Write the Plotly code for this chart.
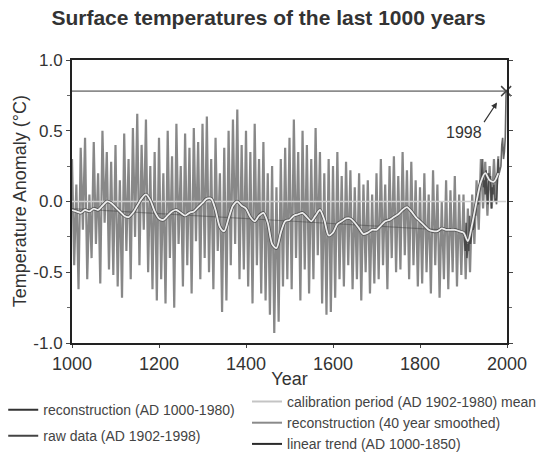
import plotly.graph_objects as go

# ---------------- data ----------------
recon_years = list(range(1000, 1981, 5))
recon_values = [
    0.30, -0.45, 0.12, -0.62, 0.38, -0.20, 0.45, -0.55, 0.05, -0.40, 0.42, -0.30, 0.20, -0.58, 0.50, -0.15, 0.35, -0.48, 0.28, -0.52,
    0.40, -0.60, 0.15, -0.68, 0.48, -0.35, 0.30, -0.55, 0.52, -0.25, 0.62, -0.45, 0.40, -0.20, 0.58, -0.50, 0.25, -0.62, 0.35, -0.70,
    0.45, -0.55, 0.20, -0.72, 0.50, -0.40, 0.32, -0.75, 0.55, -0.30, 0.25, -0.60, 0.48, -0.45, 0.38, -0.65, 0.52, -0.28, 0.42, -0.55,
    0.55, -0.40, 0.60, -0.50, 0.30, -0.62, 0.45, -0.35, 0.20, -0.78, 0.38, -0.70, 0.50, -0.45, 0.58, -0.30, 0.65, -0.55, 0.40, -0.48,
    0.50, -0.60, 0.35, -0.72, 0.55, -0.45, 0.30, -0.65, 0.42, -0.70, 0.20, -0.80, 0.25, -0.93, 0.10, -0.85, 0.30, -0.60, 0.38, -0.55,
    0.45, -0.62, 0.58, -0.40, 0.35, -0.70, 0.50, -0.48, 0.40, -0.65, 0.30, -0.55, 0.52, -0.38, 0.35, -0.72, 0.20, -0.80, 0.30, -0.78,
    0.25, -0.68, 0.35, -0.55, 0.18, -0.60, 0.28, -0.45, 0.22, -0.62, 0.10, -0.55, 0.20, -0.70, 0.12, -0.50, 0.15, -0.65, 0.05, -0.58,
    0.20, -0.55, 0.30, -0.45, 0.12, -0.62, 0.25, -0.40, 0.32, -0.50, 0.18, -0.48, 0.35, -0.38, 0.22, -0.55, 0.28, -0.45, 0.15, -0.60,
    0.10, -0.58, 0.20, -0.50, 0.05, -0.65, 0.22, -0.45, 0.12, -0.68, 0.00, -0.55, 0.15, -0.62, 0.08, -0.50, 0.18, -0.60, 0.05, -0.52,
    0.05, -0.55, -0.05, -0.50, 0.05, -0.30, 0.15, -0.20, 0.30, -0.05, 0.28, -0.10, 0.25, -0.05, 0.30, 0.00, 0.32,
]

smooth_years = list(range(1000, 1981, 10))
smooth_values = [
    -0.06, -0.07, -0.08, -0.06, -0.07, -0.05, -0.06, -0.03, 0.00, -0.01,
    -0.04, -0.07, -0.10, -0.11, -0.08, -0.03, 0.02, 0.05, 0.01, -0.07,
    -0.12, -0.13, -0.10, -0.07, -0.06, -0.08, -0.10, -0.08, -0.07, -0.04,
    -0.01, 0.02, 0.02, -0.06, -0.18, -0.21, -0.12, -0.03, 0.00, -0.03,
    -0.05, -0.11, -0.14, -0.10, -0.08, -0.15, -0.30, -0.33, -0.22, -0.14,
    -0.13, -0.10, -0.09, -0.08, -0.11, -0.14, -0.10, -0.06, -0.13, -0.24,
    -0.22, -0.16, -0.14, -0.12, -0.12, -0.15, -0.19, -0.23, -0.22, -0.20,
    -0.20, -0.17, -0.14, -0.13, -0.11, -0.09, -0.06, -0.04, -0.07, -0.11,
    -0.14, -0.17, -0.20, -0.21, -0.21, -0.19, -0.20, -0.20, -0.20, -0.21,
    -0.22, -0.28, -0.16, 0.00, 0.14, 0.20, 0.15, 0.14, 0.20,
]

raw_years = list(range(1902, 1999, 2))
raw_values = [
    -0.25, -0.35, -0.15, -0.40, -0.30, -0.35, -0.10, -0.30, -0.25, -0.15,
    -0.20, -0.18, -0.05, -0.10, 0.00, 0.05, -0.02, 0.05, 0.15, 0.12,
    0.25, 0.30, 0.10, 0.15, 0.05, 0.22, 0.05, -0.02, 0.20, 0.15,
    0.18, -0.05, 0.10, 0.05, 0.12, 0.00, 0.02, -0.02, 0.15, 0.30,
    0.20, 0.22, 0.25, 0.40, 0.45, 0.30, 0.35, 0.45, 0.78,
]

calib_years = [1000, 1998]
calib_mean = [0.0, 0.0]

trend_years = [1000, 1850]
trend_values = [-0.05, -0.20]

peak_year = 1998
peak_value = 0.78

x_tickvals = [1000, 1200, 1400, 1600, 1800, 2000]
y_tickvals = [-1.0, -0.5, 0.0, 0.5, 1.0]
y_ticktext = ["-1.0", "-0.5", "0.0", "0.5", "1.0"]

FONT = "Liberation Sans, Arial, sans-serif"

fig = go.Figure()

# plotted series
fig.add_trace(go.Scatter(
    x=recon_years, y=recon_values, mode="lines",
    line=dict(color="rgba(50,50,50,0.58)", width=2.2),
    showlegend=False, hoverinfo="skip",
))
fig.add_trace(go.Scatter(
    x=raw_years, y=raw_values, mode="lines",
    line=dict(color="rgba(50,50,50,0.75)", width=1.6),
    showlegend=False, hoverinfo="skip",
))
fig.add_trace(go.Scatter(
    x=calib_years, y=calib_mean, mode="lines",
    line=dict(color="#d0d0d0", width=1.5),
    showlegend=False, hoverinfo="skip",
))
fig.add_trace(go.Scatter(
    x=trend_years, y=trend_values, mode="lines",
    line=dict(color="rgba(40,40,40,0.35)", width=1.2),
    showlegend=False, hoverinfo="skip",
))
fig.add_trace(go.Scatter(
    x=smooth_years, y=smooth_values, mode="lines",
    line=dict(color="#555", width=3.4, shape="spline", smoothing=0.8),
    showlegend=False, hoverinfo="skip",
))
fig.add_trace(go.Scatter(
    x=smooth_years, y=smooth_values, mode="lines",
    line=dict(color="#ededed", width=1.8, shape="spline", smoothing=0.8),
    showlegend=False, hoverinfo="skip",
))
fig.add_trace(go.Scatter(
    x=[1000, peak_year], y=[peak_value, peak_value], mode="lines",
    line=dict(color="#8c8c8c", width=1.6), showlegend=False, hoverinfo="skip",
))
fig.add_trace(go.Scatter(
    x=[peak_year], y=[peak_value], mode="markers",
    marker=dict(symbol="x-thin", size=10, line=dict(color="#444", width=1.5)),
    showlegend=False, cliponaxis=False, hoverinfo="skip",
))

# legend entries
legend_left = [("reconstruction (AD 1000-1980)", "#333"),
               ("raw data (AD 1902-1998)", "#444")]
legend_right = [("calibration period (AD 1902-1980) mean", "#c4c4c4"),
                ("reconstruction (40 year smoothed)", "#8a8a8a"),
                ("linear trend (AD 1000-1850)", "#2a2a2a")]
for i, (nm, col) in enumerate(legend_left):
    fig.add_trace(go.Scatter(x=[None], y=[None], mode="lines", name=nm,
                             line=dict(color=col, width=2),
                             legend="legend", legendgroup=f"l{i}"))
for nm, col in legend_right:
    fig.add_trace(go.Scatter(x=[None], y=[None], mode="lines", name=nm,
                             line=dict(color=col, width=2), legend="legend2"))

fig.add_annotation(x=1902, y=0.49, text="1998", showarrow=False,
                   font=dict(family=FONT, size=16, color="#333"))
fig.add_annotation(x=1977, y=0.70, ax=1945, ay=0.55, axref="x", ayref="y",
                   text="", showarrow=True, arrowhead=2, arrowsize=1,
                   arrowwidth=1.2, arrowcolor="#333")
# y-axis title
fig.add_annotation(x=-0.12, y=0.5, xref="paper", yref="paper",
                   text="Temperature Anomaly (°C)", textangle=-90,
                   showarrow=False, xanchor="center", yanchor="middle",
                   font=dict(family=FONT, size=18, color="#333"))

fig.update_layout(
    width=537, height=454,
    margin=dict(l=72, r=30, t=60, b=111, autoexpand=False),
    paper_bgcolor="white", plot_bgcolor="white",
    font=dict(family=FONT, color="#333"),
    title=dict(text="<b>Surface temperatures of the last 1000 years</b>",
               x=0.5, xref="container", xanchor="center",
               y=0.962, yref="container", yanchor="middle",
               font=dict(size=21, color="#333", family=FONT)),
    legend=dict(x=0.006, y=0.132, xref="container", yref="container",
                xanchor="left", yanchor="top",
                font=dict(size=14, color="#444"), tracegroupgap=5,
                traceorder="grouped", bgcolor="rgba(0,0,0,0)"),
    legend2=dict(x=0.46, y=0.15, xref="container", yref="container",
                 xanchor="left", yanchor="top",
                 font=dict(size=14, color="#444"), tracegroupgap=0,
                 bgcolor="rgba(0,0,0,0)"),
)

fig.update_xaxes(
    range=[1000, 2000], tickvals=x_tickvals, automargin=False,
    showline=True, linecolor="#222", linewidth=2, mirror=True,
    ticks="outside", ticklen=3, tickcolor="#444",
    tickfont=dict(size=18, color="#333"),
    showgrid=False, zeroline=False,
    title=dict(text="Year", font=dict(size=18, color="#333"), standoff=0),
)
fig.update_yaxes(
    range=[-1, 1], tickvals=y_tickvals, ticktext=y_ticktext, automargin=False,
    showline=True, linecolor="#222", linewidth=2, mirror="ticks",
    ticks="outside", ticklen=4, tickcolor="#444",
    minor=dict(dtick=0.25, ticks="outside", ticklen=3, tickcolor="#666"),
    tickfont=dict(size=17, color="#333"),
    showgrid=False, zeroline=False,
)

fig.write_html("out.html", config={"displayModeBar": False},
               post_script="document.body.style.margin='0';")
